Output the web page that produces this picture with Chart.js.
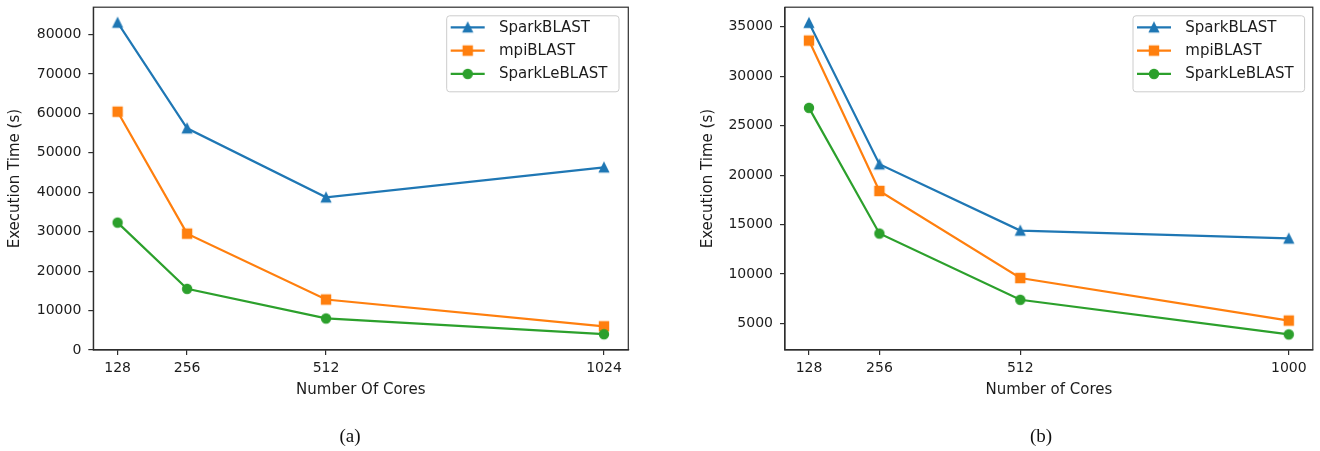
<!DOCTYPE html>
<html>
<head>
<meta charset="utf-8">
<script src="https://cdn.jsdelivr.net/npm/chart.js@4/dist/chart.umd.min.js"></script>
<style>
  html, body { margin: 0; padding: 0; background: #ffffff; }
  #wrap { position: relative; width: 1320px; height: 451px; overflow: hidden; background: #ffffff; }
  .panel { position: absolute; top: 0; width: 660px; height: 451px; }
  .cap {
    position: absolute; top: 425px; line-height: 22px;
    font-family: "Liberation Serif", "Times New Roman", serif; font-size: 19px; color: #111;
    transform: translateX(-50%); white-space: nowrap;
  }
</style>
</head>
<body>
<div id="wrap">
  <div class="panel" style="left:0"><canvas id="chartA" width="660" height="451"></canvas></div>
  <div class="panel" style="left:660px"><canvas id="chartB" width="660" height="451"></canvas></div>
  <div class="cap" style="left:350px">(a)</div>
  <div class="cap" style="left:1041px">(b)</div>
</div>
<script>
// ---- data -------------------------------------------------------------
const seriesNames = ['SparkBLAST', 'mpiBLAST', 'SparkLeBLAST'];

// panel (a)
const coresA        = [128, 256, 512, 1024];
const sparkBlastA   = [83000, 56200, 38700, 46300];
const mpiBlastA     = [60400, 29500, 12800, 6000];
const sparkLeBlastA = [32300, 15500, 8000, 4000];
const yTicksA       = [0, 10000, 20000, 30000, 40000, 50000, 60000, 70000, 80000];

// panel (b)
const coresB        = [128, 256, 512, 1000];
const sparkBlastB   = [35400, 21100, 14400, 13600];
const mpiBlastB     = [33600, 18400, 9600, 5300];
const sparkLeBlastB = [26800, 14100, 7400, 3900];
const yTicksB       = [5000, 10000, 15000, 20000, 25000, 30000, 35000];

// ---- styling ----------------------------------------------------------
const colors = ['#1f77b4', '#ff7f0e', '#2ca02c'];
const shapes = ['triangle', 'square', 'circle'];
const textColor = '#1c1c1c';
const spineColor = '#2e2e2e';

Chart.defaults.font.family = '"DejaVu Sans", sans-serif';
Chart.defaults.color = textColor;

// matplotlib-like marker sprites (filled with an edge of the same colour)
function markerSprite(shape, color) {
  const c = document.createElement('canvas');
  c.width = 14; c.height = 14;
  const g = c.getContext('2d');
  const m = 7, h = 4.5;
  g.fillStyle = color; g.strokeStyle = color; g.lineWidth = 1.4; g.lineJoin = 'miter';
  g.beginPath();
  if (shape === 'triangle') {
    g.moveTo(m, m - h); g.lineTo(m - h, m + h); g.lineTo(m + h, m + h); g.closePath();
  } else if (shape === 'square') {
    g.rect(m - h, m - h, 2 * h, 2 * h);
  } else {
    g.arc(m, m, h, 0, Math.PI * 2);
  }
  g.fill(); g.stroke();
  return c;
}
const sprites = shapes.map((s, i) => markerSprite(s, colors[i]));

// full box around the plotting area
const frame = {
  id: 'frame',
  afterDatasetsDraw(chart) {
    const { ctx, chartArea: a } = chart;
    ctx.save();
    ctx.strokeStyle = spineColor;
    ctx.lineWidth = 1.2;
    ctx.strokeRect(a.left, a.top, a.right - a.left, a.bottom - a.top);
    ctx.restore();
  }
};

// legend box in the upper-right corner of the plotting area
const boxLegend = {
  id: 'boxLegend',
  afterDraw(chart, args, opts) {
    const { ctx, chartArea: a } = chart;
    const w = opts.width, h = 76;
    const right = a.right - opts.inset;
    const left = right - w;
    const top = a.top + 8.6;
    const r = 3;
    ctx.save();
    ctx.beginPath();
    ctx.moveTo(left + r, top);
    ctx.lineTo(right - r, top); ctx.quadraticCurveTo(right, top, right, top + r);
    ctx.lineTo(right, top + h - r); ctx.quadraticCurveTo(right, top + h, right - r, top + h);
    ctx.lineTo(left + r, top + h); ctx.quadraticCurveTo(left, top + h, left, top + h - r);
    ctx.lineTo(left, top + r); ctx.quadraticCurveTo(left, top, left + r, top);
    ctx.closePath();
    ctx.fillStyle = 'rgba(255,255,255,0.8)';
    ctx.fill();
    ctx.strokeStyle = '#cccccc';
    ctx.lineWidth = 1;
    ctx.stroke();

    chart.data.datasets.forEach((ds, i) => {
      const cy = top + 11.5 + i * 23.3;
      ctx.strokeStyle = ds.borderColor;
      ctx.lineWidth = 2.2;
      ctx.beginPath();
      ctx.moveTo(left + 4, cy);
      ctx.lineTo(left + 38, cy);
      ctx.stroke();
      ctx.drawImage(ds.pointStyle, left + 21 - 7, cy - 7);
      ctx.fillStyle = textColor;
      ctx.font = '15px "DejaVu Sans", sans-serif';
      ctx.textBaseline = 'middle';
      ctx.textAlign = 'left';
      ctx.fillText(ds.label, left + 52.3, cy + 0.5);
    });
    ctx.restore();
  }
};

function buildPanel(id, cores, series, xLim, yLim, yTicks, xTitle, geom) {
  const datasets = series.map((vals, i) => ({
    label: seriesNames[i],
    data: cores.map((c, j) => ({ x: c, y: vals[j] })),
    borderColor: colors[i],
    backgroundColor: colors[i],
    borderWidth: 2.2,
    pointStyle: sprites[i],
    pointRadius: 5,
    pointHoverRadius: 5,
    tension: 0,
    order: series.length - i
  }));

  const axisGrid = {
    display: true, drawOnChartArea: false, drawTicks: true,
    tickLength: 5, color: spineColor, lineWidth: 1.2
  };
  const axisBorder = { display: true, color: spineColor, width: 1.2 };

  return new Chart(document.getElementById(id), {
    type: 'line',
    data: { datasets },
    plugins: [frame, boxLegend],
    options: {
      responsive: false,
      animation: false,
      events: [],
      layout: { padding: { left: 0, right: geom.padRight, top: 4.7, bottom: 0 } },
      plugins: {
        legend: { display: false },
        tooltip: { enabled: false },
        boxLegend: { inset: geom.legendInset, width: geom.legendWidth }
      },
      scales: {
        x: {
          type: 'linear',
          min: xLim[0], max: xLim[1],
          grid: axisGrid, border: axisBorder,
          ticks: {
            autoSkip: false, maxRotation: 0, padding: 5,
            font: { size: 14 }, color: textColor,
            callback: v => String(v)
          },
          afterBuildTicks: s => { s.ticks = cores.map(v => ({ value: v })); },
          afterFit: s => { s.height = 101; s.paddingLeft = 0; s.paddingRight = 0; },
          title: {
            display: true, text: xTitle, color: textColor,
            font: { size: 15 }, padding: { top: 0, bottom: 51.5 }
          }
        },
        y: {
          type: 'linear',
          min: yLim[0], max: yLim[1],
          grid: axisGrid, border: axisBorder,
          ticks: {
            autoSkip: false, padding: 7,
            font: { size: 14 }, color: textColor,
            callback: v => String(v)
          },
          afterBuildTicks: s => { s.ticks = yTicks.map(v => ({ value: v })); },
          afterFit: s => { s.width = geom.axisLeft; s.paddingTop = 0; s.paddingBottom = 0; },
          title: {
            display: true, text: 'Execution Time (s)', color: textColor,
            font: { size: 15 }, padding: { top: geom.yTitlePad, bottom: 0 }
          }
        }
      }
    }
  });
}

buildPanel('chartA',
  coresA, [sparkBlastA, mpiBlastA, sparkLeBlastA],
  [83.2, 1068.8], [0, 86900], yTicksA, 'Number Of Cores',
  { axisLeft: 93.3, padRight: 31.7, yTitlePad: 6, legendInset: 9.3, legendWidth: 172.3 });

buildPanel('chartB',
  coresB, [sparkBlastB, mpiBlastB, sparkLeBlastB],
  [84.4, 1043.6], [2325, 36975], yTicksB, 'Number of Cores',
  { axisLeft: 125, padRight: 2.5, yTitlePad: 39, legendInset: 8.2, legendWidth: 171.6 });
</script>
</body>
</html>
